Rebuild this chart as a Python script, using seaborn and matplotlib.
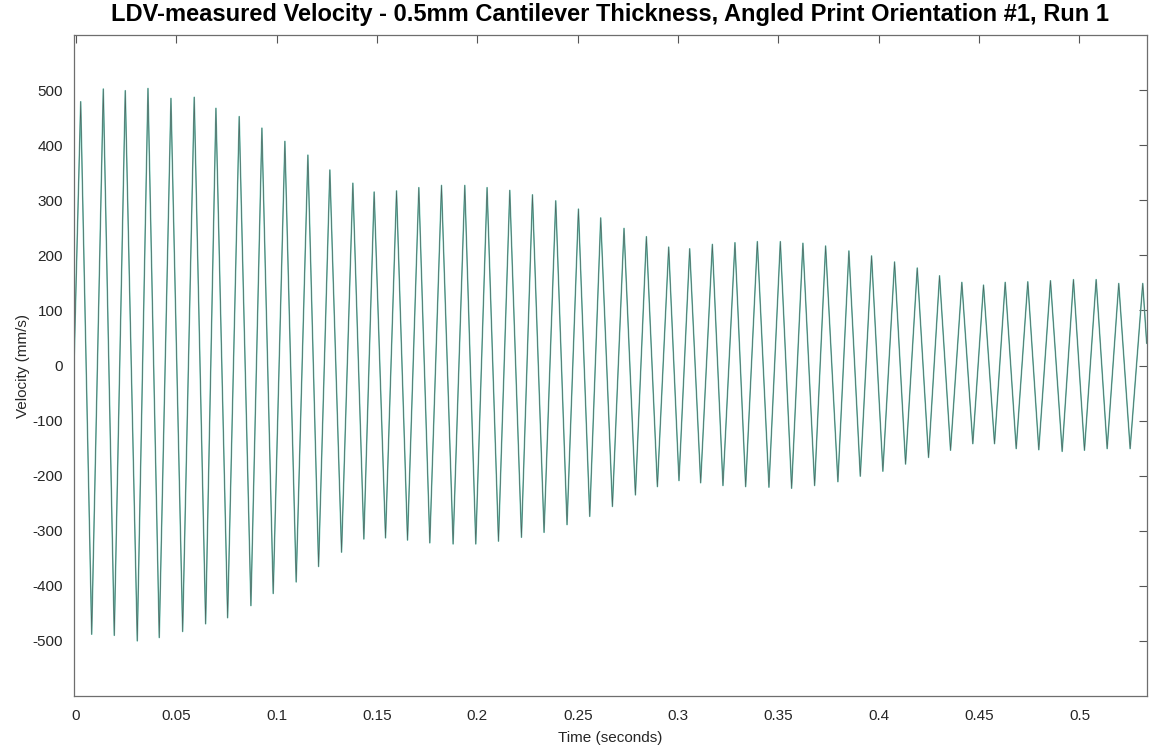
import numpy as np
import pandas as pd
import matplotlib
matplotlib.use("Agg")
import matplotlib.pyplot as plt
import seaborn as sns

# ---- data (time in s, velocity in mm/s) ----
start_time = [-0.001]
start_value = [0.0]

peak_times = [0.00234, 0.01360, 0.02455, 0.03586, 0.04731, 0.05891, 0.06972, 0.08132,
              0.09263, 0.10408, 0.11554, 0.12649, 0.13795, 0.14856, 0.15971, 0.17082,
              0.18212, 0.19372, 0.20483, 0.21614, 0.22744, 0.23904, 0.25035, 0.26145,
              0.27306, 0.28421, 0.29532, 0.30578, 0.31708, 0.32834, 0.33949, 0.35095,
              0.36220, 0.37351, 0.38511, 0.39641, 0.40787, 0.41917, 0.43028, 0.44139,
              0.45219, 0.46300, 0.47425, 0.48556, 0.49701, 0.50832, 0.51957, 0.53153]
peak_values = [479, 502, 499, 503, 485, 487, 467, 452,
               431, 407, 382, 355, 331, 315, 317, 323,
               327, 327, 323, 318, 310, 299, 284, 268,
               249, 234, 215, 212, 220, 223, 225, 225,
               222, 217, 208, 199, 188, 177, 163, 151,
               146, 151, 152, 154, 156, 156, 149, 149]

trough_times = [0.00782, 0.01907, 0.03053, 0.04148, 0.05314, 0.06459, 0.07555, 0.08715,
                0.09826, 0.10971, 0.12087, 0.13232, 0.14343, 0.15423, 0.16519, 0.17629,
                0.18790, 0.19920, 0.21051, 0.22196, 0.23322, 0.24467, 0.25598, 0.26728,
                0.27874, 0.28969, 0.30045, 0.31125, 0.32236, 0.33367, 0.34527, 0.35657,
                0.36803, 0.37963, 0.39079, 0.40204, 0.41335, 0.42480, 0.43576, 0.44686,
                0.45767, 0.46848, 0.47973, 0.49138, 0.50249, 0.51380, 0.52525]
trough_values = [-488, -490, -500, -494, -483, -469, -458, -436,
                 -414, -393, -365, -339, -315, -313, -317, -322,
                 -324, -324, -319, -312, -303, -289, -274, -256,
                 -235, -220, -209, -213, -218, -220, -221, -223,
                 -218, -211, -201, -192, -179, -167, -154, -142,
                 -142, -151, -153, -156, -154, -151, -151]

end_time = [0.5335]
end_value = [40.0]

x_ticks = [0, 0.05, 0.1, 0.15, 0.2, 0.25, 0.3, 0.35, 0.4, 0.45, 0.5]
x_tick_labels = ["0", "0.05", "0.1", "0.15", "0.2", "0.25", "0.3", "0.35", "0.4", "0.45", "0.5"]
y_ticks = [-500, -400, -300, -200, -100, 0, 100, 200, 300, 400, 500]
y_tick_labels = [str(v) for v in y_ticks]

title = "LDV-measured Velocity - 0.5mm Cantilever Thickness, Angled Print Orientation #1, Run 1"
x_label = "Time (seconds)"
y_label = "Velocity (mm/s)"

# ---- build the table ----
df = pd.DataFrame({
    "time": start_time + peak_times + trough_times + end_time,
    "velocity": start_value + peak_values + trough_values + end_value,
}).sort_values("time").reset_index(drop=True)

# ---- style ----
sns.set_style("white")
plt.rcParams["font.family"] = ["Liberation Sans", "DejaVu Sans"]
plt.rcParams["axes.unicode_minus"] = False

fig = plt.figure(figsize=(11.49, 7.52), dpi=100)
ax = fig.add_axes([74 / 1149, 56 / 752, (1146.7 - 74) / 1149, (696 - 35) / 752])

sns.lineplot(data=df, x="time", y="velocity", sort=False, estimator=None,
             color="#6cc9b6", linewidth=1.1, ax=ax)
sns.lineplot(data=df, x="time", y="velocity", sort=False, estimator=None,
             color="#4a4a4a", linewidth=0.5, alpha=0.8, ax=ax)

ax.set_xlim(-0.001, 0.5335)
ax.set_ylim(-600, 600)
ax.set_xticks(x_ticks)
ax.set_xticklabels(x_tick_labels)
ax.set_yticks(y_ticks)
ax.set_yticklabels(y_tick_labels)

ax.tick_params(direction="in", top=True, right=True, length=6, width=0.8,
               color="#555555", labelcolor="#262626", labelsize=11)
ax.tick_params(axis="x", pad=9)
ax.tick_params(axis="y", pad=8)
for s in ax.spines.values():
    s.set_visible(True)
    s.set_color("#6e6e6e")
    s.set_linewidth(0.9)

ax.set_xlabel(x_label, fontsize=11, color="#262626", labelpad=6)
ax.set_ylabel(y_label, fontsize=11, color="#262626", labelpad=2)

fig.text((74 + 1146.7) / 2 / 1149, 1 - 15 / 752, title, ha="center", va="center",
         fontsize=17, fontweight="bold", color="#000000")

fig.savefig("out.png", dpi=100)
